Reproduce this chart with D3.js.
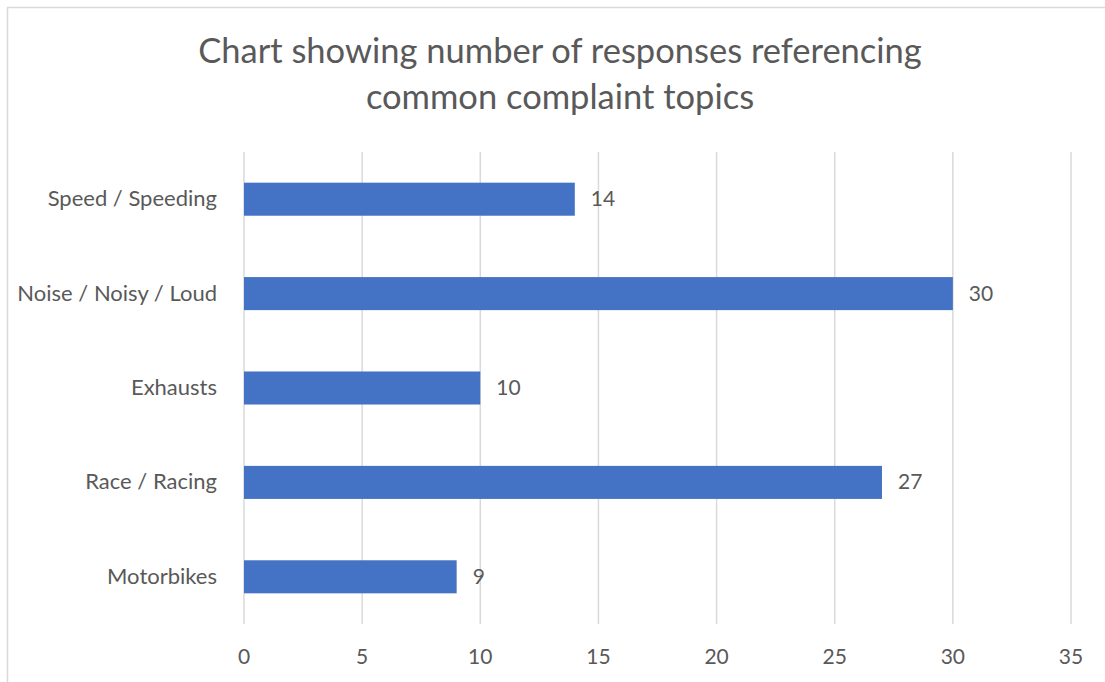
<!DOCTYPE html>
<html>
<head>
<meta charset="utf-8">
<script src="https://cdn.jsdelivr.net/npm/d3@7"></script>
<style>
  body { margin: 0; background: #fff; }
  text { font-family: Lato, "Open Sans", sans-serif; fill: #595959; }
</style>
</head>
<body>
<svg id="chart" width="1105" height="682"></svg>
<script>
// chart data, top to bottom as shown
var topics = ["Speed / Speeding", "Noise / Noisy / Loud", "Exhausts", "Race / Racing", "Motorbikes"];
var responses = [14, 30, 10, 27, 9];
var xTicks = [0, 5, 10, 15, 20, 25, 30, 35];
var titleLines = ["Chart showing number of responses referencing", "common complaint topics"];

var svg = d3.select("#chart");
var width = +svg.attr("width");
var height = +svg.attr("height");

// outer chart border (right and bottom edges run off the picture)
svg.append("rect")
  .attr("x", 7.5).attr("y", 7.5)
  .attr("width", width).attr("height", height)
  .attr("fill", "#fff").attr("stroke", "#d9d9d9").attr("stroke-width", 1.5);

var x = d3.scaleLinear().domain([0, 35]).range([244, 1071]);
var y = d3.scaleBand().domain(topics).range([152, 624]).paddingInner(0.65).paddingOuter(0.325);

// title
svg.append("g").selectAll("text")
  .data(titleLines)
  .join("text")
  .attr("x", 560)
  .attr("y", (d, i) => 63 + i * 46)
  .attr("text-anchor", "middle")
  .style("font-size", "34.5px")
  .text(d => d);

// vertical gridlines
svg.append("g").selectAll("line")
  .data(xTicks)
  .join("line")
  .attr("x1", d => x(d)).attr("x2", d => x(d))
  .attr("y1", 152).attr("y2", 624)
  .attr("stroke", "#d9d9d9").attr("stroke-width", 1.5);

// x tick labels
svg.append("g").selectAll("text")
  .data(xTicks)
  .join("text")
  .attr("x", d => x(d))
  .attr("y", 664)
  .attr("text-anchor", "middle")
  .style("font-size", "21px")
  .text(d => d);

// bars
svg.append("g").selectAll("rect")
  .data(responses)
  .join("rect")
  .attr("x", x(0))
  .attr("y", (d, i) => y(topics[i]))
  .attr("width", d => x(d) - x(0))
  .attr("height", y.bandwidth())
  .attr("fill", "#4472c4");

// category labels
svg.append("g").selectAll("text")
  .data(topics)
  .join("text")
  .attr("x", 217)
  .attr("y", d => y(d) + y.bandwidth() / 2 + 7)
  .attr("text-anchor", "end")
  .style("font-size", "22px")
  .text(d => d);

// value labels
svg.append("g").selectAll("text")
  .data(responses)
  .join("text")
  .attr("x", d => x(d) + 16)
  .attr("y", (d, i) => y(topics[i]) + y.bandwidth() / 2 + 7)
  .style("font-size", "21px")
  .text(d => d);
</script>
</body>
</html>
